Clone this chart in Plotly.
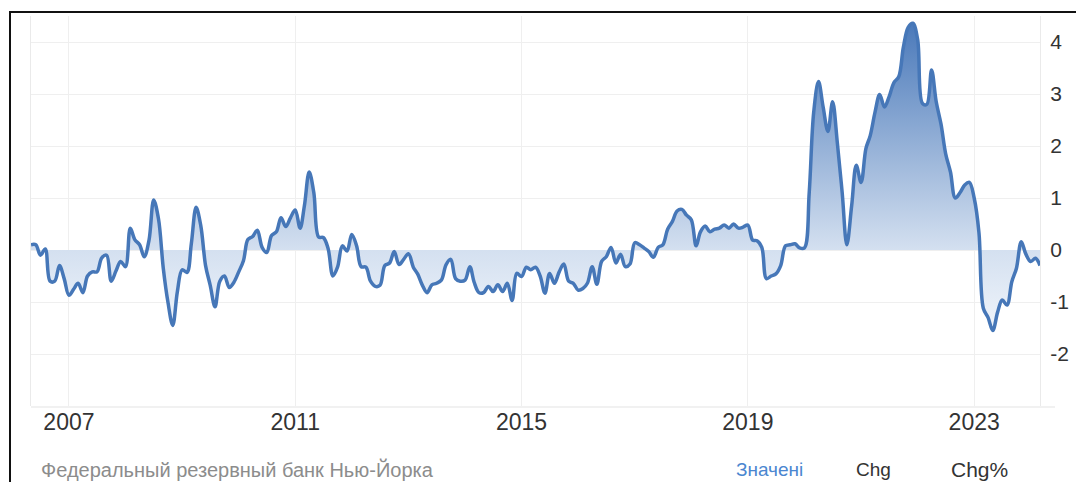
import pandas as pd
import plotly.graph_objects as go

# ---------------- data (monthly) ----------------
start_month = "2006-05-01"
gscpi = [
    # 2006 May-Dec
    0.10, 0.10, -0.10, 0.02, -0.60, -0.60, -0.30, -0.55,
    # 2007
    -0.87, -0.75, -0.64, -0.82, -0.50, -0.42, -0.42, -0.15, -0.10, -0.60, -0.40, -0.22,
    # 2008
    -0.32, 0.42, 0.20, 0.10, -0.13, 0.19, 0.96, 0.60, -0.35, -1.00, -1.45, -0.80,
    # 2009
    -0.38, -0.43, 0.12, 0.82, 0.47, -0.30, -0.68, -1.09, -0.60, -0.50, -0.72, -0.62,
    # 2010
    -0.42, -0.20, 0.20, 0.26, 0.38, 0.05, -0.05, 0.28, 0.35, 0.62, 0.45, 0.62,
    # 2011
    0.77, 0.42, 0.85, 1.50, 1.10, 0.25, 0.24, 0.03, -0.50, -0.33, 0.08, -0.02,
    # 2012
    0.30, 0.08, -0.32, -0.33, -0.60, -0.70, -0.68, -0.30, -0.25, -0.03, -0.28, -0.18,
    # 2013
    -0.07, -0.33, -0.46, -0.68, -0.82, -0.67, -0.64, -0.58, -0.28, -0.18, -0.55, -0.60,
    # 2014
    -0.58, -0.32, -0.62, -0.82, -0.82, -0.70, -0.80, -0.67, -0.80, -0.64, -0.97, -0.45,
    # 2015
    -0.51, -0.33, -0.38, -0.33, -0.50, -0.83, -0.45, -0.64, -0.42, -0.27, -0.60, -0.64,
    # 2016
    -0.77, -0.74, -0.64, -0.32, -0.66, -0.22, -0.13, 0.05, -0.25, -0.08, -0.32, -0.27,
    # 2017
    0.14, 0.10, 0.04, -0.03, -0.14, 0.05, 0.10, 0.40, 0.55, 0.75, 0.78, 0.67,
    # 2018
    0.58, 0.08, 0.35, 0.46, 0.35, 0.40, 0.42, 0.48, 0.42, 0.50, 0.42, 0.44,
    # 2019
    0.48, 0.19, 0.18, 0.05, -0.55, -0.50, -0.46, -0.30, 0.08, 0.10, 0.12, 0.04,
    # 2020
    0.04, 1.10, 2.65, 3.24, 2.75, 2.28, 2.85, 2.05, 1.10, 0.10, 0.85, 1.63,
    # 2021
    1.30, 1.95, 2.20, 2.65, 2.99, 2.75, 2.95, 3.22, 3.33, 3.90, 4.28, 4.36,
    # 2022
    4.05, 2.82, 2.80, 3.46, 2.85, 2.42, 1.85, 1.50, 1.00, 1.10, 1.25, 1.30,
    # 2023
    1.00, 0.33, -1.12, -1.30, -1.55, -1.20, -0.96, -1.06, -0.61, -0.35, 0.16, -0.08,
    # 2024 Jan-Mar
    -0.22, -0.16, -0.30,
]
dates = pd.date_range(start_month, periods=len(gscpi), freq="MS")

x_tick_dates = ["2007-01-01", "2011-01-01", "2015-01-01", "2019-01-01", "2023-01-01"]
x_tick_labels = ["2007", "2011", "2015", "2019", "2023"]
y_tick_values = [-2, -1, 0, 1, 2, 3, 4]
y_tick_labels = ["-2", "-1", "0", "1", "2", "3", "4"]
y_range = [-3, 4.5]
source_text = "Федеральный резервный банк Нью-Йорка"
tab_labels = ["Значені", "Chg", "Chg%"]

# ---------------- layout geometry (page pixels) ----------------
OFF = 8                      # default body margin of the html page
W, H = 1084 - 2 * OFF, 490 - 2 * OFF
PL, PR, PT, PB = 31, 1040, 16, 406   # plot area in page pixels
ml, mr, mt, mb = PL - OFF, W - (PR - OFF), PT - OFF, H - (PB - OFF)
pw, ph = PR - PL, PB - PT


def px(x):   # page x -> paper x
    return (x - PL) / pw


def py(y):   # page y -> paper y
    return (PB - y) / ph


FONT = "Liberation Sans"
LINE = "#4677b8"

fig = go.Figure()
fig.add_trace(go.Scatter(
    x=dates, y=gscpi, mode="lines",
    line=dict(color=LINE, width=3.5, shape="spline", smoothing=1.0),
    fill="tozeroy",
    fillgradient=dict(
        type="vertical", start=y_range[0], stop=y_range[1],
        colorscale=[[0.0, "rgb(252,253,255)"], [0.19, "rgb(240,245,251)"],
                    [0.40, "rgb(212,224,240)"], [1.0, "rgb(70,118,184)"]],
    ),
    hoverinfo="skip", showlegend=False,
))

shapes = [
    # screenshot frame
    dict(type="line", xref="paper", yref="paper", x0=px(10), x1=px(10), y0=py(11), y1=py(498),
         line=dict(color="#111111", width=2)),
    dict(type="line", xref="paper", yref="paper", x0=px(9), x1=px(1090), y0=py(12), y1=py(12),
         line=dict(color="#111111", width=2)),
    # bottom axis line
    dict(type="line", xref="paper", yref="paper", x0=px(PL), x1=px(1055), y0=py(407), y1=py(407),
         line=dict(color="#e3e3e3", width=1)),
]

annotations = [
    dict(text=source_text, xref="paper", yref="paper", x=px(39), y=py(469),
         xanchor="left", yanchor="middle", showarrow=False,
         font=dict(family=FONT, size=20, color="#8c8c8c")),
    dict(text=tab_labels[0], xref="paper", yref="paper", x=px(734), y=py(469),
         xanchor="left", yanchor="middle", showarrow=False,
         font=dict(family=FONT, size=19, color="#4a86d0")),
    dict(text=tab_labels[1], xref="paper", yref="paper", x=px(854), y=py(469),
         xanchor="left", yanchor="middle", showarrow=False,
         font=dict(family=FONT, size=19, color="#333333")),
    dict(text=tab_labels[2], xref="paper", yref="paper", x=px(949), y=py(469),
         xanchor="left", yanchor="middle", showarrow=False,
         font=dict(family=FONT, size=21, color="#333333")),
]

fig.update_layout(
    width=W, height=H,
    margin=dict(l=ml, r=mr, t=mt, b=mb, pad=0),
    paper_bgcolor="white", plot_bgcolor="white",
    shapes=shapes, annotations=annotations,
    showlegend=False,
    xaxis=dict(
        range=[dates[0], dates[-1]],
        tickvals=x_tick_dates, ticktext=x_tick_labels,
        showgrid=True, gridcolor="#efefef", gridwidth=1,
        zeroline=False, showline=False, ticks="",
        tickfont=dict(family=FONT, size=23, color="#333333"),
    ),
    yaxis=dict(
        range=y_range, side="right",
        tickvals=y_tick_values, ticktext=y_tick_labels,
        showgrid=True, gridcolor="#efefef", gridwidth=1,
        zeroline=False, showline=True, linecolor="#eaeaea", linewidth=1, mirror=True,
        ticks="outside", ticklen=5, tickcolor="rgba(0,0,0,0)",
        tickfont=dict(family=FONT, size=21, color="#333333"),
    ),
)

fig.write_html("out.html")
